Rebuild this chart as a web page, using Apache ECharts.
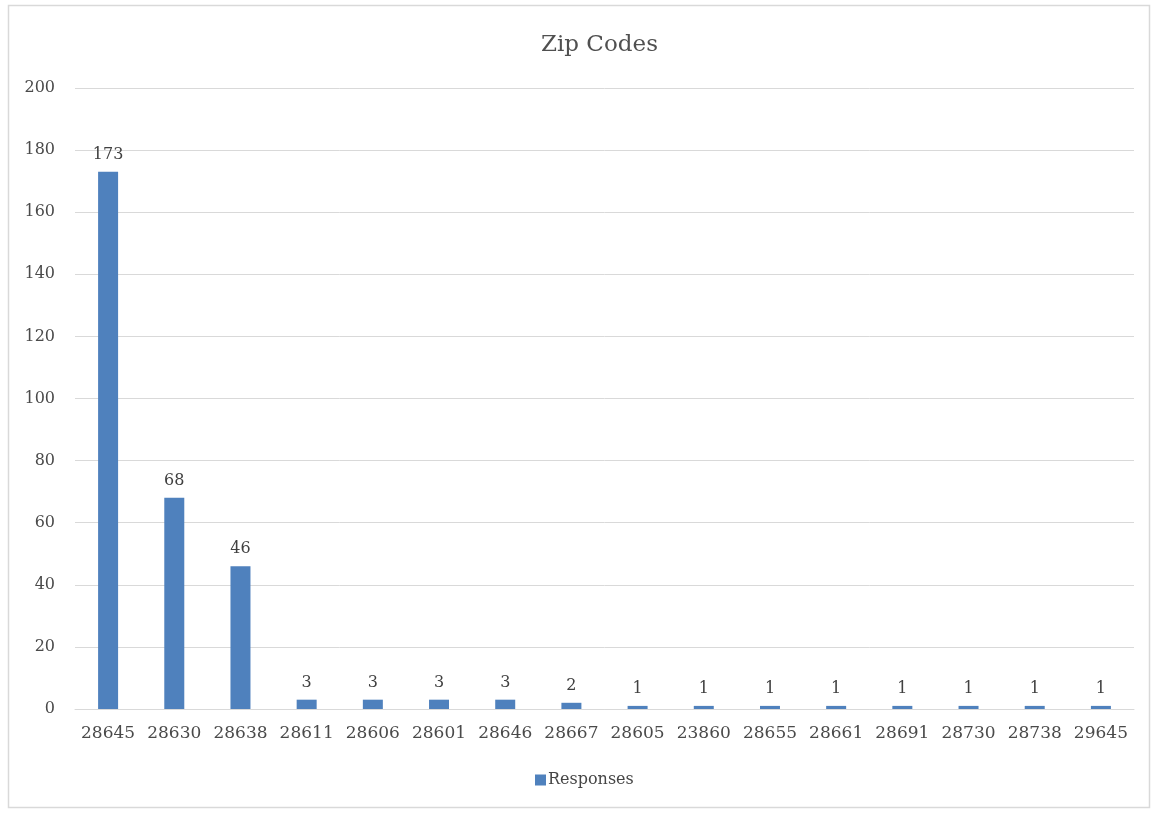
<!DOCTYPE html>
<html>
<head>
<meta charset="utf-8">
<script src="https://cdn.jsdelivr.net/npm/echarts@6/dist/echarts.min.js"></script>
<style>
  html, body { margin: 0; padding: 0; background: #fff; }
  #main { width: 1158px; height: 813px; }
</style>
</head>
<body>
<div id="main"></div>
<script>
var zipCodes = ["28645", "28630", "28638", "28611", "28606", "28601", "28646", "28667",
	"28605", "23860", "28655", "28661", "28691", "28730", "28738", "29645"];
var responses = [173, 68, 46, 3, 3, 3, 3, 2, 1, 1, 1, 1, 1, 1, 1, 1];

var font = "DejaVu Serif";
var chart = echarts.init(document.getElementById("main"));

chart.setOption({
	backgroundColor: "#fff",
	animation: false,
	graphic: [{
		type: "rect",
		shape: { x: 8.5, y: 5.5, width: 1141, height: 802 },
		style: { fill: "none", stroke: "#d9d9d9", lineWidth: 1.5 },
		silent: true
	}],
	title: {
		text: "Zip Codes",
		left: 536,
		top: 29,
		textStyle: { fontFamily: font, fontSize: 23, fontWeight: "normal", color: "#505050" }
	},
	legend: {
		bottom: 20,
		left: 530,
		itemWidth: 11,
		itemHeight: 11,
		itemGap: 4,
		icon: "rect",
		textStyle: { fontFamily: font, fontSize: 16, color: "#454545", padding: [0, 0, 0, -3] },
		data: ["Responses"]
	},
	grid: { left: 75, right: 24, top: 88, bottom: 104, containLabel: false },
	xAxis: {
		type: "category",
		data: zipCodes,
		axisLine: { lineStyle: { color: "#d9d9d9" } },
		axisTick: { show: false },
		axisLabel: { fontFamily: font, fontSize: 17, color: "#4a4a4a", margin: 16, interval: 0 }
	},
	yAxis: {
		type: "value",
		min: 0,
		max: 200,
		interval: 20,
		axisLine: { show: false },
		axisTick: { show: false },
		splitLine: { lineStyle: { color: "#d9d9d9" } },
		axisLabel: { fontFamily: font, fontSize: 16, color: "#4a4a4a", margin: 20 }
	},
	series: [{
		name: "Responses",
		type: "bar",
		data: responses,
		barWidth: 20,
		itemStyle: { color: "#4f81bd" },
		label: {
			show: true,
			position: "top",
			distance: 9,
			fontFamily: font,
			fontSize: 16,
			color: "#404040"
		}
	}]
});
</script>
</body>
</html>
